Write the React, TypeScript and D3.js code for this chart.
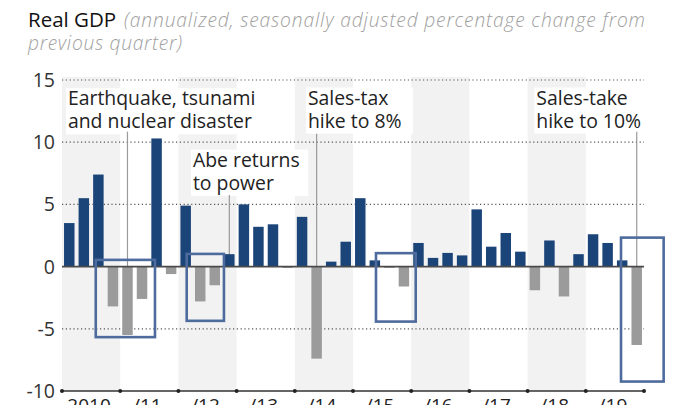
import React from "react";
import * as d3 from "d3";

// ---- data ----
const yearLabels = ["2010", "/11", "/12", "/13", "/14", "/15", "/16", "/17", "/18", "/19"];
const gdpChange = [
  3.5, 5.5, 7.4, -3.2,
  -5.5, -2.6, 10.3, -0.6,
  4.9, -2.8, -1.5, 1.0,
  5.0, 3.2, 3.4, -0.1,
  4.0, -7.4, 0.4, 2.0,
  5.5, 0.5, -0.1, -1.6,
  1.9, 0.7, 1.1, 0.9,
  4.6, 1.6, 2.7, 1.2,
  -1.9, 2.1, -2.4, 1.0,
  2.6, 1.9, 0.5, -6.3,
];
const yTicks = [-10, -5, 0, 5, 10, 15];
const shadedYears = ["2010", "/12", "/14", "/16", "/18"];

// annotations (text + the quarter they point to)
const annotationText = [
  ["Earthquake, tsunami", "and nuclear disaster"],
  ["Abe returns", "to power"],
  ["Sales-tax", "hike to 8%"],
  ["Sales-take", "hike to 10%"],
];
const annotationQuarter = [4, 11, 17, 39];
// anchor of the text, in quarter units / percentage units
const annotationTextQ = [0.41, 9.0, 16.9, 32.6];
const annotationTextV = [12.98, 8.03, 13.03, 13.03];
const annotationLeaderTopV = [10.85, 5.76, 10.67, 10.85];

// highlight boxes, in quarter units / percentage units
const boxStartQ = [2.32, 8.57, 21.58, 38.42];
const boxEndQ = [6.39, 11.13, 24.31, 41.35];
const boxTopV = [0.54, 1.02, 1.08, 2.33];
const boxBottomV = [-5.67, -4.36, -4.42, -9.24];

const W = 674;
const H = 405;
const FONT = "'Open Sans', Lato, sans-serif";

export default function App() {
  const left = 62;
  const right = 644;
  const top = 80;
  const bottom = 391;

  const y = d3.scaleLinear().domain([-10, 15]).range([bottom, top]);
  const quarters = d3.range(gdpChange.length);
  const x = d3
    .scaleBand<number>()
    .domain(quarters)
    .range([left, right])
    .paddingInner(0.28)
    .paddingOuter(0.14);
  const xYear = d3.scaleBand<string>().domain(yearLabels).range([left, right]).padding(0);
  const q = d3.scaleLinear().domain([0, gdpChange.length]).range([left, right]);

  const lineH = 23.2;
  const annFont = 19.4;

  return (
    <div style={{ position: "absolute", left: 0, top: 0 }}>
      <svg width={W} height={H} style={{ display: "block", background: "#fff" }} fontFamily={FONT}>
        {/* title */}
        <text x={28} y={27} fontSize={20.5} fill="#111" fontWeight={500}>
          Real GDP
        </text>
        <text
          x={124}
          y={27}
          fontSize={19.2}
          fill="#a0a0a0"
          fontStyle="italic"
          fontWeight={300}
          textLength={521}
          lengthAdjust="spacing"
        >
          (annualized, seasonally adjusted percentage change from
        </text>
        <text
          x={28}
          y={50}
          fontSize={19.2}
          fill="#a0a0a0"
          fontStyle="italic"
          fontWeight={300}
          textLength={154}
          lengthAdjust="spacing"
        >
          previous quarter)
        </text>

        {/* year bands */}
        {shadedYears.map((yr) => (
          <rect
            key={yr}
            x={xYear(yr)}
            y={top - 3}
            width={xYear.bandwidth()}
            height={bottom - top + 3}
            fill="#f2f2f2"
          />
        ))}

        {/* annotation text */}
        {annotationText.map((lines, i) => {
          const tx = q(annotationTextQ[i]);
          const ty = y(annotationTextV[i]);
          const maxLen = d3.max(lines, (l) => l.length) || 0;
          return (
            <g key={"at" + i}>
              <rect
                x={tx - 2}
                y={ty - 17}
                width={maxLen * 10.3 + 4}
                height={lineH * (lines.length - 1) + 23}
                fill="#fff"
              />
              {lines.map((l, j) => (
                <text key={j} x={tx} y={ty + j * lineH} fontSize={annFont} fill="#222">
                  {l}
                </text>
              ))}
            </g>
          );
        })}

        {/* gridlines */}
        {yTicks
          .filter((t) => t !== 0 && t !== -10)
          .map((t) => (
            <line
              key={"g" + t}
              x1={left}
              x2={right}
              y1={y(t)}
              y2={y(t)}
              stroke="#555"
              strokeWidth={1.2}
              strokeDasharray="1.2,2.6"
            />
          ))}

        {/* leader lines */}
        {annotationQuarter.map((qi, i) => {
          const cx = (x(qi) || 0) + x.bandwidth() / 2;
          return (
            <line
              key={"ll" + i}
              x1={cx}
              x2={cx}
              y1={y(annotationLeaderTopV[i])}
              y2={y(0)}
              stroke="#9a9a9a"
              strokeWidth={1.2}
            />
          );
        })}

        {/* bars */}
        {gdpChange.map((v, i) => (
          <rect
            key={"b" + i}
            x={x(i)}
            width={x.bandwidth()}
            y={y(Math.max(0, v))}
            height={Math.abs(y(v) - y(0))}
            fill={v >= 0 ? "#1b4479" : "#9b9b9b"}
          />
        ))}

        {/* zero line */}
        <line x1={left} x2={right} y1={y(0)} y2={y(0)} stroke="#4a4a4a" strokeWidth={1.6} />

        {/* bottom axis */}
        <line x1={left} x2={right} y1={y(-10)} y2={y(-10)} stroke="#333" strokeWidth={1.3} />
        {d3.range(yearLabels.length + 1).map((k) => (
          <circle
            key={"td" + k}
            cx={k < yearLabels.length ? xYear(yearLabels[k]) : right}
            cy={y(-10)}
            r={2}
            fill="#222"
          />
        ))}
        {yearLabels.map((yr) => (
          <text
            key={"xl" + yr}
            x={(xYear(yr) || 0) + xYear.bandwidth() / 2 - 2}
            y={412}
            fontSize={19}
            fill="#222"
            textAnchor="middle"
          >
            {yr}
          </text>
        ))}

        {/* y tick labels */}
        {yTicks.map((t) => (
          <text
            key={"yl" + t}
            x={55}
            y={y(t) + 7}
            fontSize={19.5}
            fill="#333"
            textAnchor="end"
          >
            {t}
          </text>
        ))}

        {/* highlight boxes */}
        {boxStartQ.map((s, i) => (
          <rect
            key={"box" + i}
            x={q(s)}
            y={y(boxTopV[i])}
            width={q(boxEndQ[i]) - q(s)}
            height={y(boxBottomV[i]) - y(boxTopV[i])}
            fill="none"
            stroke="#4d6b9c"
            strokeWidth={2.6}
          />
        ))}
      </svg>
    </div>
  );
}
